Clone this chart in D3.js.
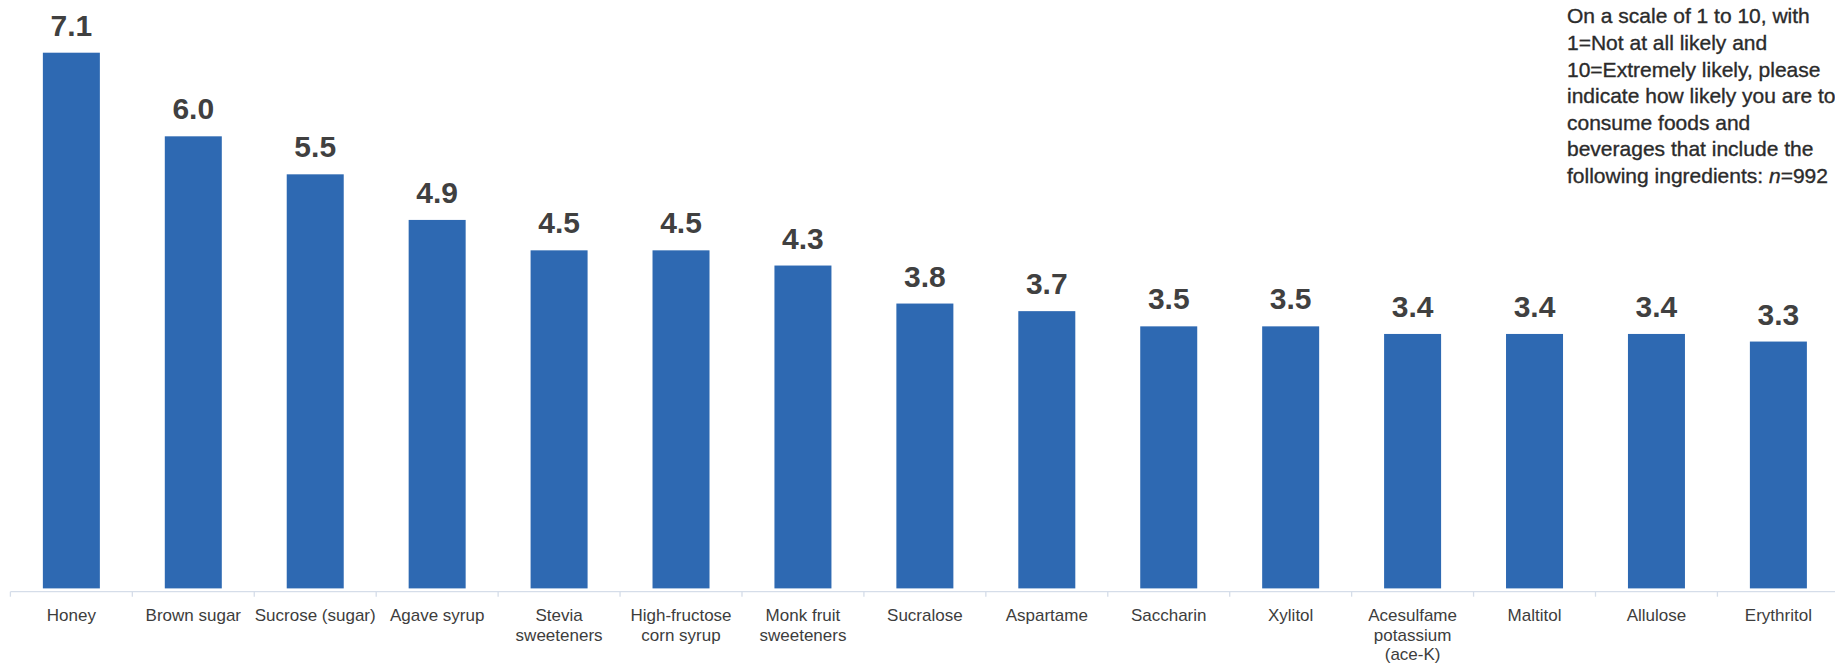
<!DOCTYPE html>
<html>
<head>
<meta charset="utf-8">
<script src="https://cdn.jsdelivr.net/npm/d3@7/dist/d3.min.js"></script>
<style>
  html, body { margin: 0; padding: 0; background: #ffffff; overflow: hidden; }
  svg { display: block; }
</style>
</head>
<body>
<svg id="chart" width="1835" height="663"></svg>
<script>
// ---- data ----
const categories = [
  "Honey", "Brown sugar", "Sucrose (sugar)", "Agave syrup", "Stevia sweeteners",
  "High-fructose corn syrup", "Monk fruit sweeteners", "Sucralose", "Aspartame",
  "Saccharin", "Xylitol", "Acesulfame potassium (ace-K)", "Maltitol", "Allulose", "Erythritol"
];
const categoryLines = [
  ["Honey"], ["Brown sugar"], ["Sucrose (sugar)"], ["Agave syrup"], ["Stevia", "sweeteners"],
  ["High-fructose", "corn syrup"], ["Monk fruit", "sweeteners"], ["Sucralose"], ["Aspartame"],
  ["Saccharin"], ["Xylitol"], ["Acesulfame", "potassium", "(ace-K)"], ["Maltitol"], ["Allulose"], ["Erythritol"]
];
const values = [7.1, 6.0, 5.5, 4.9, 4.5, 4.5, 4.3, 3.8, 3.7, 3.5, 3.5, 3.4, 3.4, 3.4, 3.3];
const noteLines = [
  "On a scale of 1 to 10, with",
  "1=Not at all likely and",
  "10=Extremely likely, please",
  "indicate how likely you are to",
  "consume foods and",
  "beverages that include the",
  "following ingredients: "
];
const noteN = "n";
const noteNValue = "=992";

// ---- layout ----
const svg = d3.select("#chart");
const pInner = 1 - 57 / 121.93;
const x = d3.scaleBand()
  .domain(categories)
  .range([10.4, 10.4 + 15 * 121.93])
  .paddingInner(pInner)
  .paddingOuter(pInner / 2);
const y = d3.scaleLinear().domain([0, 7.1]).range([592.4, 52.7]);
const step = x.step();
const barColor = "#2e69b2";
const textColor = "#3d3d3d";

// axis line + ticks at category boundaries
const axisY = 591.7;
const axisG = svg.append("g").attr("transform", `translate(0,${axisY})`);
axisG.append("line")
  .attr("x1", x.range()[0]).attr("x2", 1835)
  .attr("y1", 0).attr("y2", 0)
  .attr("stroke", "#d5dde9").attr("stroke-width", 1.3);
axisG.selectAll("line.tick")
  .data(categories)
  .join("line")
  .attr("class", "tick")
  .attr("x1", d => x(d) + x.bandwidth() / 2 - step / 2)
  .attr("x2", d => x(d) + x.bandwidth() / 2 - step / 2)
  .attr("y1", 0).attr("y2", 5)
  .attr("stroke", "#d5dde9").attr("stroke-width", 1.3);

// bars
svg.append("g").selectAll("rect")
  .data(values)
  .join("rect")
  .attr("x", (d, i) => x(categories[i]))
  .attr("width", x.bandwidth())
  .attr("y", d => y(d))
  .attr("height", d => y(0) - y(d) - 4)
  .attr("fill", barColor);

// value labels
svg.append("g").selectAll("text")
  .data(values)
  .join("text")
  .attr("x", (d, i) => x(categories[i]) + x.bandwidth() / 2)
  .attr("y", d => y(d) - 17)
  .attr("text-anchor", "middle")
  .attr("font-family", "'Liberation Sans', Arial, sans-serif")
  .attr("font-weight", "bold")
  .attr("font-size", 30)
  .attr("fill", "#404040")
  .text(d => d.toFixed(1));

// category labels
const catG = svg.append("g");
categoryLines.forEach((lines, i) => {
  const t = catG.append("text")
    .attr("x", x(categories[i]) + x.bandwidth() / 2)
    .attr("y", 620.7)
    .attr("text-anchor", "middle")
    .attr("font-family", "'Liberation Sans', Arial, sans-serif")
    .attr("font-size", 17)
    .attr("fill", textColor);
  lines.forEach((ln, j) => {
    t.append("tspan")
      .attr("x", x(categories[i]) + x.bandwidth() / 2)
      .attr("dy", j === 0 ? 0 : 19.8)
      .text(ln);
  });
});

// note (top right)
const note = svg.append("text")
  .attr("x", 1567)
  .attr("y", 23.3)
  .attr("font-family", "'Liberation Sans', Arial, sans-serif")
  .attr("font-size", 21)
  .attr("fill", "#2b2b2b")
  .attr("stroke", "#2b2b2b")
  .attr("stroke-width", 0.35);
noteLines.forEach((ln, j) => {
  note.append("tspan")
    .attr("x", 1567)
    .attr("dy", j === 0 ? 0 : 26.6)
    .text(ln);
});
note.append("tspan").attr("font-style", "italic").text(noteN);
note.append("tspan").text(noteNValue);
</script>
</body>
</html>
